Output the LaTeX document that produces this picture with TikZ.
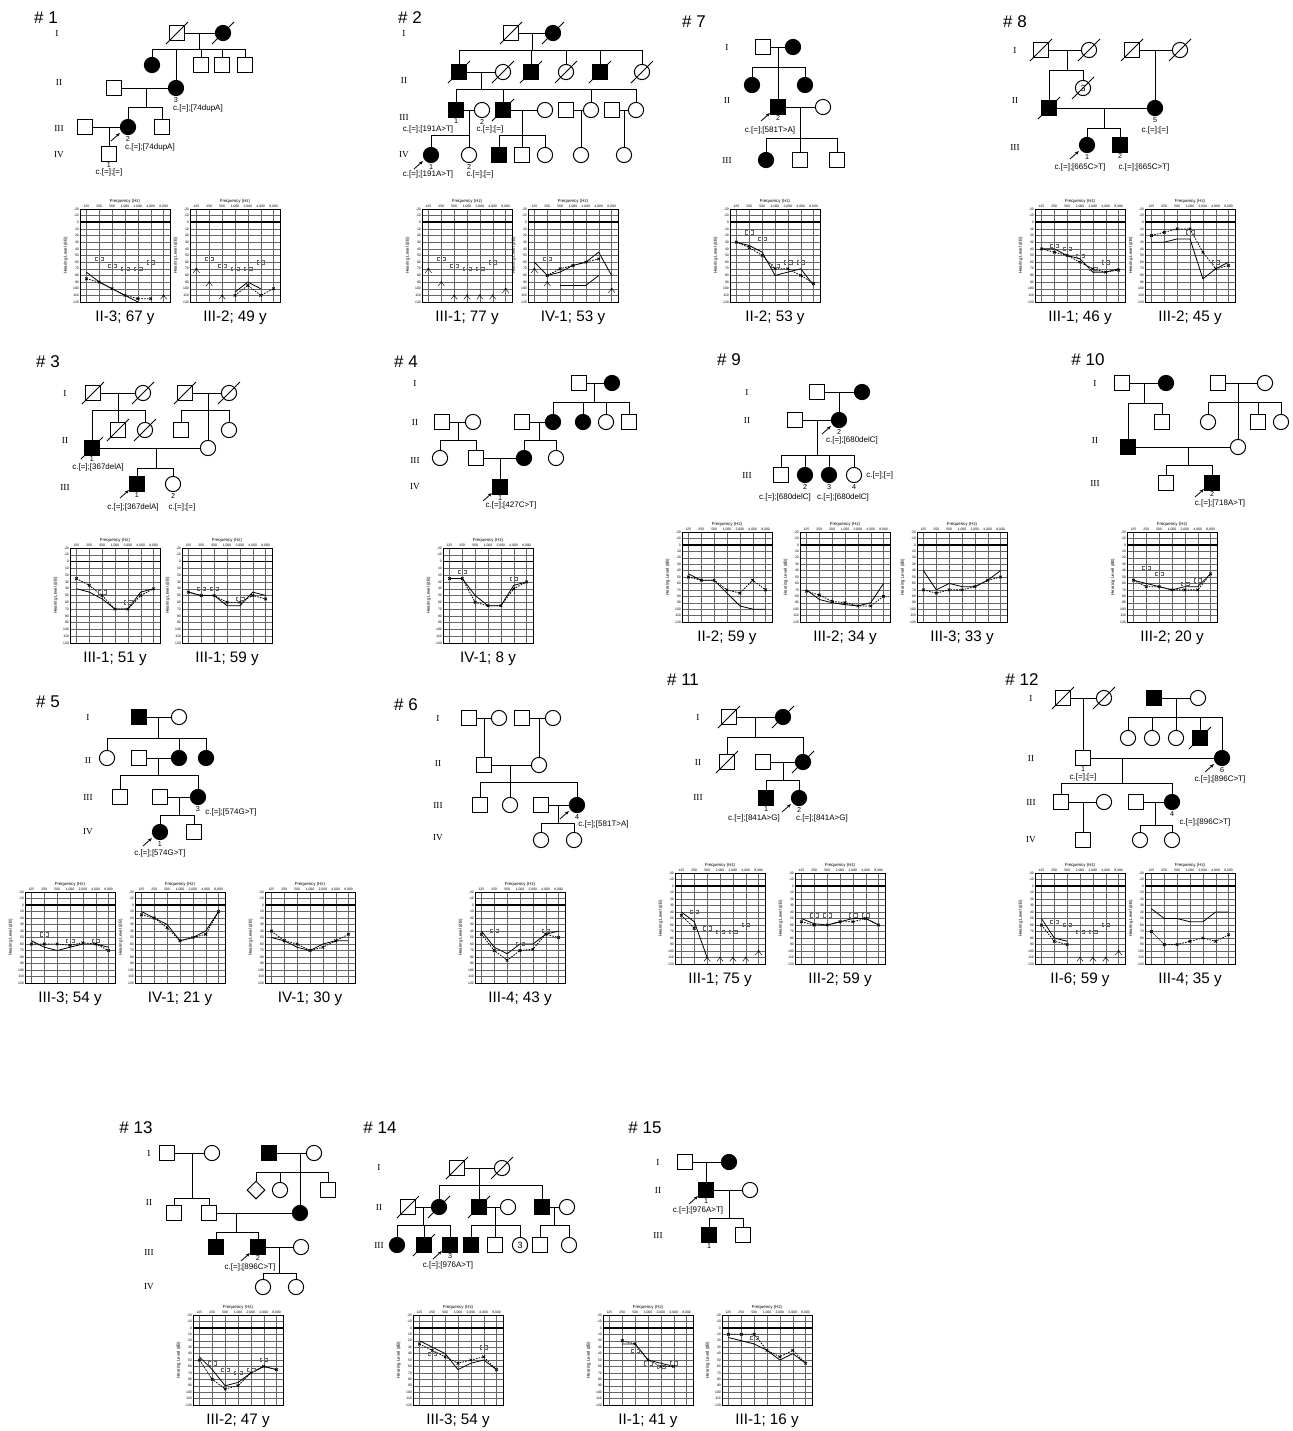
\documentclass[tikz,border=0pt]{standalone}
\usepackage{fontspec}
\setmainfont{Liberation Sans}
\newfontfamily\genfont{Liberation Serif}
\usetikzlibrary{shapes.geometric,arrows.meta}

\newcommand{\deceased}[1]{\draw[slash] ([shift={(-11,11)}]#1.center) -- ([shift={(11,-11)}]#1.center);}
\newcommand{\proband}[1]{\draw[parr] ([shift={(-17,14)}]#1.center) -- ([shift={(-8,6)}]#1.center);}
\newcommand{\bone}[1]{\foreach \f/\d in {#1} {\draw[bcm] (\f-0.12,\d-2.5) -- (\f-0.3,\d-2.5) -- (\f-0.3,\d+2.5) -- (\f-0.12,\d+2.5) (\f+0.12,\d-2.5) -- (\f+0.3,\d-2.5) -- (\f+0.3,\d+2.5) -- (\f+0.12,\d+2.5);}}
\newcommand{\nores}[1]{\foreach \f/\d in {#1} {\draw[bcm, black] (\f-0.25,\d+6) -- (\f,\d) -- (\f+0.25,\d+6); \fill (\f,\d) circle (0.5pt);}}
% audiogram: left, top, height, caption, data
\newcommand{\audiogram}[5]{%
  \pgfmathsetmacro{\agunit}{-#3/280}%
  \begin{scope}[shift={(#1+6.43,#2+#3/7)}, x=6.43pt, y=\agunit pt]
    \foreach \d in {-20,-10,...,120} {
      \draw[agline] (-0.5,\d) -- (6.5,\d);
      \node[agtick, anchor=east] at (-0.5,\d) {\d};
    }
    \foreach \f/\t in {0/125,1/250,2/500,3/{1,000},4/{2,000},5/{4,000},6/{8,000}} {
      \draw[agline] (\f,-20) -- (\f,120);
      \node[agtick, anchor=south] at (\f,-20) {\t};
    }
    \draw[agframe] (-0.5,-20) rectangle (6.5,120);
    \draw[agzero] (-0.5,0) -- (6.5,0);
    \node[agtitle, anchor=south, yshift=2.2pt] at (3,-20) {Frequency (Hz)};
    \node[agtitle, rotate=90] at (-1.6,50) {Hearing Level (dB)};
    \node[agcap, yshift=-8pt] at (3,120) {#4};
    #5
  \end{scope}}

\begin{document}
\begin{tikzpicture}[
  x=0.5pt, y=-0.5pt,
  msq/.style={rectangle, draw, line width=0.5pt, minimum size=7.2pt, inner sep=0pt},
  mfill/.style={msq, fill=black},
  fcir/.style={circle, draw, line width=0.5pt, minimum size=7.6pt, inner sep=0pt},
  ffill/.style={fcir, fill=black},
  unk/.style={diamond, draw, line width=0.5pt, minimum size=9pt, inner sep=0pt},
  kin/.style={line width=0.5pt},
  slash/.style={line width=0.4pt},
  parr/.style={-{Stealth[length=2.2pt,width=1.6pt]}, line width=0.4pt},
  famlab/.style={font=\fontsize{8.5}{9}\selectfont},
  genlab/.style={font=\genfont\fontsize{4.6}{5}\selectfont},
  geno/.style={font=\fontsize{4}{4.5}\selectfont, inner sep=0pt},
  ilab/.style={font=\fontsize{3.6}{4}\selectfont, inner sep=0.4pt},
  agline/.style={line width=0.18pt, black!60},
  agframe/.style={line width=0.35pt},
  agzero/.style={line width=0.8pt},
  agtick/.style={font=\fontsize{1.7}{2}\selectfont, inner sep=0.4pt},
  agtitle/.style={font=\fontsize{2.2}{2.5}\selectfont, inner sep=0.3pt},
  agcap/.style={font=\fontsize{7.6}{8}\selectfont},
  rear/.style={line width=0.4pt, mark=o, mark size=0.9pt},
  lear/.style={line width=0.4pt, dash pattern=on 0.8pt off 0.6pt, mark=x, mark size=0.9pt, mark options={solid}},
  bcm/.style={line width=0.22pt, black!60}
]
  \fill[white] (0,0) rectangle (1292,1431);
  \useasboundingbox (0,0) rectangle (1292,1431);

  % family 1
  \node[famlab] (h1) at (46,18) {\# 1};
  \node[genlab] (g1a) at (57,33) {I};
  \node[genlab] (g1b) at (59,82) {II};
  \node[genlab] (g1c) at (59,128) {III};
  \node[genlab] (g1d) at (59,155) {IV};
  \node[msq] (p1a1) at (177,33) {};
  \node[ffill] (p1a2) at (223,33) {};
  \node[ffill] (p1b1) at (152,65) {};
  \node[msq] (p1b2) at (114,88) {};
  \node[ffill, label={[ilab]below:3}] (p1b3) at (176,88) {};
  \node[msq] (p1b4) at (201,65) {};
  \node[msq] (p1b5) at (222,65) {};
  \node[msq] (p1b6) at (245,65) {};
  \node[msq] (p1c1) at (85,127) {};
  \node[ffill, label={[ilab]below:2}] (p1c2) at (128,127) {};
  \node[msq] (p1c3) at (162,127) {};
  \node[msq, label={[ilab]below:1}] (p1d1) at (109,154) {};
  \node[geno] (p1t1) at (198,108) {c.[=];[74dupA]};
  \node[geno] (p1t2) at (150,147) {c.[=];[74dupA]};
  \node[geno] (p1t3) at (109,172) {c.[=];[=]};
  \coordinate (p1m1) at (199,33);
  \coordinate (p1s1) at (199,49);
  \coordinate (p1m2) at (146,88);
  \coordinate (p1s2) at (146,107);
  \coordinate (p1m3) at (109,127);
  \draw[kin] (p1a1) -- (p1a2);
  \draw[kin] (p1m1) -- (p1s1) (p1s1) -| (p1b1) (p1s1) -| (p1b3) (p1s1) -| (p1b4) (p1s1) -| (p1b5) (p1s1) -| (p1b6);
  \draw[kin] (p1b2) -- (p1b3);
  \draw[kin] (p1m2) -- (p1s2) (p1s2) -| (p1c2) (p1s2) -| (p1c3);
  \draw[kin] (p1c1) -- (p1c2);
  \draw[kin] (p1m3) -- (p1d1);
  \deceased{p1a1} \deceased{p1a2}
  \proband{p1c2}

  % family 2
  \node[famlab] (h2) at (410,18) {\# 2};
  \node[genlab] (g2a) at (404,33) {I};
  \node[genlab] (g2b) at (404,80) {II};
  \node[genlab] (g2c) at (404,117) {III};
  \node[genlab] (g2d) at (404,155) {IV};
  \node[msq] (p2a1) at (511,33) {};
  \node[ffill] (p2a2) at (553,33) {};
  \node[mfill] (p2b1) at (459,72) {};
  \node[fcir] (p2b2) at (503,72) {};
  \node[mfill] (p2b3) at (531,72) {};
  \node[fcir] (p2b4) at (566,72) {};
  \node[mfill] (p2b5) at (600,72) {};
  \node[fcir] (p2b6) at (642,72) {};
  \node[mfill, label={[ilab]below:1}] (p2c1) at (456,110) {};
  \node[fcir, label={[ilab]below:2}] (p2c2) at (482,110) {};
  \node[mfill] (p2c3) at (503,110) {};
  \node[fcir] (p2c4) at (545,110) {};
  \node[msq] (p2c5) at (566,110) {};
  \node[fcir] (p2c6) at (591,110) {};
  \node[msq] (p2c7) at (612,110) {};
  \node[fcir] (p2c8) at (636,110) {};
  \node[ffill, label={[ilab]below:1}] (p2d1) at (431,155) {};
  \node[fcir, label={[ilab]below:2}] (p2d2) at (469,155) {};
  \node[mfill] (p2d3) at (499,155) {};
  \node[msq] (p2d4) at (522,155) {};
  \node[fcir] (p2d5) at (545,155) {};
  \node[fcir] (p2d6) at (581,155) {};
  \node[fcir] (p2d7) at (624,155) {};
  \node[geno] (p2t1) at (428,129) {c.[=];[191A>T]};
  \node[geno] (p2t2) at (490,129) {c.[=];[=]};
  \node[geno] (p2t3) at (428,174) {c.[=];[191A>T]};
  \node[geno] (p2t4) at (480,174) {c.[=];[=]};
  \coordinate (p2m1) at (532,33);
  \coordinate (p2s1) at (532,50);
  \coordinate (p2m2) at (481,72);
  \coordinate (p2s2) at (481,89);
  \coordinate (p2m3) at (469,110);
  \coordinate (p2s3) at (469,135);
  \coordinate (p2m4) at (522,110);
  \coordinate (p2s4) at (522,135);
  \coordinate (p2m5) at (581,110);
  \coordinate (p2m6) at (624,110);
  \draw[kin] (p2a1) -- (p2a2);
  \draw[kin] (p2m1) -- (p2s1) (p2s1) -| (p2b1) (p2s1) -| (p2b3) (p2s1) -| (p2b4) (p2s1) -| (p2b5) (p2s1) -| (p2b6);
  \draw[kin] (p2b1) -- (p2b2);
  \draw[kin] (p2m2) -- (p2s2) (p2s2) -| (p2c1) (p2s2) -| (p2c3) (p2s2) -| (p2c6) (p2s2) -| (p2c8);
  \draw[kin] (p2c1) -- (p2c2);
  \draw[kin] (p2m3) -- (p2s3) (p2s3) -| (p2d1) (p2s3) -| (p2d2);
  \draw[kin] (p2c3) -- (p2c4);
  \draw[kin] (p2m4) -- (p2s4) (p2s4) -| (p2d3) (p2s4) -| (p2d4) (p2s4) -| (p2d5);
  \draw[kin] (p2c5) -- (p2c6);
  \draw[kin] (p2m5) -- (p2d6);
  \draw[kin] (p2c7) -- (p2c8);
  \draw[kin] (p2m6) -- (p2d7);
  \deceased{p2a1} \deceased{p2a2} \deceased{p2b1} \deceased{p2b2} \deceased{p2b3}
  \deceased{p2b4} \deceased{p2b5} \deceased{p2b6} \deceased{p2c3}
  \proband{p2d1}

  % family 7
  \node[famlab] (h7) at (694,22) {\# 7};
  \node[genlab] (g7a) at (727,47) {I};
  \node[genlab] (g7b) at (727,100) {II};
  \node[genlab] (g7c) at (727,160) {III};
  \node[msq] (p7a1) at (763,47) {};
  \node[ffill] (p7a2) at (793,47) {};
  \node[ffill] (p7b1) at (752,85) {};
  \node[mfill, label={[ilab]below:2}] (p7b2) at (778,107) {};
  \node[ffill] (p7b3) at (805,85) {};
  \node[fcir] (p7b4) at (823,107) {};
  \node[ffill] (p7c1) at (766,160) {};
  \node[msq] (p7c2) at (800,160) {};
  \node[msq] (p7c3) at (837,160) {};
  \node[geno] (p7t1) at (770,130) {c.[=];[581T>A]};
  \coordinate (p7m1) at (778,47);
  \coordinate (p7s1) at (778,67);
  \coordinate (p7m2) at (800,107);
  \coordinate (p7s2) at (800,138);
  \draw[kin] (p7a1) -- (p7a2);
  \draw[kin] (p7m1) -- (p7b2) (p7s1) -| (p7b1) (p7s1) -| (p7b3);
  \draw[kin] (p7b2) -- (p7b4);
  \draw[kin] (p7m2) -- (p7s2) (p7s2) -| (p7c1) (p7s2) -| (p7c2) (p7s2) -| (p7c3);
  \proband{p7b2}

  % family 8
  \node[famlab] (h8) at (1015,22) {\# 8};
  \node[genlab] (g8a) at (1015,50) {I};
  \node[genlab] (g8b) at (1015,100) {II};
  \node[genlab] (g8c) at (1015,147) {III};
  \node[msq] (p8a1) at (1041,50) {};
  \node[fcir] (p8a2) at (1089,50) {};
  \node[msq] (p8a3) at (1132,50) {};
  \node[fcir] (p8a4) at (1180,50) {};
  \node[mfill] (p8b1) at (1049,108) {};
  \node[fcir, font=\fontsize{4.5}{5}\selectfont] (p8b2) at (1083,88) {3};
  \node[ffill, label={[ilab]below:5}] (p8b3) at (1155,108) {};
  \node[ffill, label={[ilab]below:1}] (p8c1) at (1087,145) {};
  \node[mfill, label={[ilab]below:2}] (p8c2) at (1120,145) {};
  \node[geno] (p8t1) at (1155,130) {c.[=];[=]};
  \node[geno] (p8t2) at (1080,167) {c.[=];[665C>T]};
  \node[geno] (p8t3) at (1144,167) {c.[=];[665C>T]};
  \coordinate (p8m1) at (1067,50);
  \coordinate (p8s1) at (1067,70);
  \coordinate (p8m2) at (1155,50);
  \coordinate (p8m3) at (1104,108);
  \coordinate (p8s3) at (1104,128);
  \draw[kin] (p8a1) -- (p8a2);
  \draw[kin] (p8m1) -- (p8s1) (p8s1) -| (p8b1) (p8s1) -| (p8b2);
  \draw[kin] (p8a3) -- (p8a4);
  \draw[kin] (p8m2) -- (p8b3);
  \draw[kin] (p8b1) -- (p8b3);
  \draw[kin] (p8m3) -- (p8s3) (p8s3) -| (p8c1) (p8s3) -| (p8c2);
  \deceased{p8a1} \deceased{p8a2} \deceased{p8a3} \deceased{p8a4} \deceased{p8b1} \deceased{p8b2}
  \proband{p8c1}

  % family 3
  \node[famlab] (h3) at (48,362) {\# 3};
  \node[genlab] (g3a) at (65,393) {I};
  \node[genlab] (g3b) at (65,440) {II};
  \node[genlab] (g3c) at (65,487) {III};
  \node[msq] (p3a1) at (93,393) {};
  \node[fcir] (p3a2) at (143,393) {};
  \node[msq] (p3a3) at (185,393) {};
  \node[fcir] (p3a4) at (229,393) {};
  \node[mfill, label={[ilab]below:1}] (p3b1) at (92,448) {};
  \node[msq] (p3b2) at (118,430) {};
  \node[fcir] (p3b3) at (145,430) {};
  \node[msq] (p3b4) at (181,430) {};
  \node[fcir] (p3b5) at (208,448) {};
  \node[fcir] (p3b6) at (229,430) {};
  \node[mfill, label={[ilab]below:1}] (p3c1) at (137,484) {};
  \node[fcir, label={[ilab]below:2}] (p3c2) at (173,484) {};
  \node[geno] (p3t1) at (98,467) {c.[=];[367delA]};
  \node[geno] (p3t2) at (133,507) {c.[=];[367delA]};
  \node[geno] (p3t3) at (182,507) {c.[=];[=]};
  \coordinate (p3m1) at (118,393);
  \coordinate (p3s1) at (118,410);
  \coordinate (p3m2) at (208,393);
  \coordinate (p3s2) at (208,410);
  \coordinate (p3m3) at (156,448);
  \coordinate (p3s3) at (156,468);
  \draw[kin] (p3a1) -- (p3a2);
  \draw[kin] (p3m1) -- (p3s1) (p3s1) -| (p3b1) (p3s1) -| (p3b2) (p3s1) -| (p3b3);
  \draw[kin] (p3a3) -- (p3a4);
  \draw[kin] (p3m2) -- (p3s2) (p3s2) -| (p3b4) (p3s2) -| (p3b5) (p3s2) -| (p3b6);
  \draw[kin] (p3b1) -- (p3b5);
  \draw[kin] (p3m3) -- (p3s3) (p3s3) -| (p3c1) (p3s3) -| (p3c2);
  \deceased{p3a1} \deceased{p3a2} \deceased{p3a3} \deceased{p3a4} \deceased{p3b1}
  \deceased{p3b2} \deceased{p3b3}
  \proband{p3c1}

  % family 4
  \node[famlab] (h4) at (406,362) {\# 4};
  \node[genlab] (g4a) at (415,383) {I};
  \node[genlab] (g4b) at (415,422) {II};
  \node[genlab] (g4c) at (415,460) {III};
  \node[genlab] (g4d) at (415,487) {IV};
  \node[msq] (p4a1) at (579,383) {};
  \node[ffill] (p4a2) at (612,383) {};
  \node[msq] (p4b1) at (442,422) {};
  \node[fcir] (p4b2) at (473,422) {};
  \node[msq] (p4b3) at (522,422) {};
  \node[ffill] (p4b4) at (553,422) {};
  \node[ffill] (p4b5) at (583,422) {};
  \node[fcir] (p4b6) at (606,422) {};
  \node[msq] (p4b7) at (629,422) {};
  \node[fcir] (p4c1) at (440,458) {};
  \node[msq] (p4c2) at (476,458) {};
  \node[ffill] (p4c3) at (524,458) {};
  \node[fcir] (p4c4) at (556,458) {};
  \node[mfill, label={[ilab]below:1}] (p4d1) at (500,487) {};
  \node[geno] (p4t1) at (511,505) {c.[=];[427C>T]};
  \coordinate (p4m1) at (594,383);
  \coordinate (p4s1) at (594,402);
  \coordinate (p4m2) at (458,422);
  \coordinate (p4s2) at (458,440);
  \coordinate (p4m3) at (539,422);
  \coordinate (p4s3) at (539,440);
  \coordinate (p4m4) at (500,458);
  \draw[kin] (p4a1) -- (p4a2);
  \draw[kin] (p4m1) -- (p4s1) (p4s1) -| (p4b4) (p4s1) -| (p4b5) (p4s1) -| (p4b6) (p4s1) -| (p4b7);
  \draw[kin] (p4b1) -- (p4b2);
  \draw[kin] (p4m2) -- (p4s2) (p4s2) -| (p4c1) (p4s2) -| (p4c2);
  \draw[kin] (p4b3) -- (p4b4);
  \draw[kin] (p4m3) -- (p4s3) (p4s3) -| (p4c3) (p4s3) -| (p4c4);
  \draw[kin] (p4c2) -- (p4c3);
  \draw[kin] (p4m4) -- (p4d1);
  \proband{p4d1}

  % family 9
  \node[famlab] (h9) at (729,360) {\# 9};
  \node[genlab] (g9a) at (747,392) {I};
  \node[genlab] (g9b) at (747,420) {II};
  \node[genlab] (g9c) at (747,475) {III};
  \node[msq] (p9a1) at (817,392) {};
  \node[ffill] (p9a2) at (862,392) {};
  \node[msq] (p9b1) at (795,420) {};
  \node[ffill, label={[ilab]below:2}] (p9b2) at (839,420) {};
  \node[msq] (p9c1) at (781,475) {};
  \node[ffill, label={[ilab]below:2}] (p9c2) at (805,475) {};
  \node[ffill, label={[ilab]below:3}] (p9c3) at (829,475) {};
  \node[fcir, label={[ilab]below:4}] (p9c4) at (854,475) {};
  \node[geno] (p9t1) at (852,440) {c.[=];[680delC]};
  \node[geno, anchor=west] (p9t2) at (866,475) {c.[=];[=]};
  \node[geno] (p9t3) at (785,497) {c.[=];[680delC]};
  \node[geno] (p9t4) at (843,497) {c.[=];[680delC]};
  \coordinate (p9m1) at (839,392);
  \coordinate (p9m2) at (817,420);
  \coordinate (p9s2) at (817,455);
  \draw[kin] (p9a1) -- (p9a2);
  \draw[kin] (p9m1) -- (p9b2);
  \draw[kin] (p9b1) -- (p9b2);
  \draw[kin] (p9m2) -- (p9s2) (p9s2) -| (p9c1) (p9s2) -| (p9c2) (p9s2) -| (p9c3) (p9s2) -| (p9c4);
  \proband{p9b2}

  % family 10
  \node[famlab] (h10) at (1088,360) {\# 10};
  \node[genlab] (g10a) at (1095,383) {I};
  \node[genlab] (g10b) at (1095,440) {II};
  \node[genlab] (g10c) at (1095,483) {III};
  \node[msq] (p10a1) at (1122,383) {};
  \node[ffill] (p10a2) at (1166,383) {};
  \node[msq] (p10a3) at (1218,383) {};
  \node[fcir] (p10a4) at (1265,383) {};
  \node[mfill] (p10b1) at (1128,447) {};
  \node[msq] (p10b2) at (1162,422) {};
  \node[fcir] (p10b3) at (1208,422) {};
  \node[fcir] (p10b4) at (1238,447) {};
  \node[msq] (p10b5) at (1258,422) {};
  \node[fcir] (p10b6) at (1281,422) {};
  \node[msq] (p10c1) at (1166,483) {};
  \node[mfill, label={[ilab]below:2}] (p10c2) at (1212,483) {};
  \node[geno] (p10t1) at (1220,503) {c.[=];[718A>T]};
  \coordinate (p10m1) at (1144,383);
  \coordinate (p10s1) at (1144,403);
  \coordinate (p10m2) at (1238,383);
  \coordinate (p10s2) at (1238,402);
  \coordinate (p10m3) at (1188,447);
  \coordinate (p10s3) at (1188,465);
  \draw[kin] (p10a1) -- (p10a2);
  \draw[kin] (p10m1) -- (p10s1) (p10s1) -| (p10b1) (p10s1) -| (p10b2);
  \draw[kin] (p10a3) -- (p10a4);
  \draw[kin] (p10m2) -- (p10b4) (p10s2) -| (p10b3) (p10s2) -| (p10b5) (p10s2) -| (p10b6);
  \draw[kin] (p10b1) -- (p10b4);
  \draw[kin] (p10m3) -- (p10s3) (p10s3) -| (p10c1) (p10s3) -| (p10c2);
  \proband{p10c2}

  % family 5
  \node[famlab] (h5) at (48,702) {\# 5};
  \node[genlab] (g5a) at (88,717) {I};
  \node[genlab] (g5b) at (88,760) {II};
  \node[genlab] (g5c) at (88,797) {III};
  \node[genlab] (g5d) at (88,832) {IV};
  \node[mfill] (p5a1) at (139,717) {};
  \node[fcir] (p5a2) at (179,717) {};
  \node[fcir] (p5b1) at (107,758) {};
  \node[msq] (p5b2) at (139,758) {};
  \node[ffill] (p5b3) at (179,758) {};
  \node[ffill] (p5b4) at (206,758) {};
  \node[msq] (p5c1) at (120,797) {};
  \node[msq] (p5c2) at (160,797) {};
  \node[ffill, label={[ilab]below:3}] (p5c3) at (198,797) {};
  \node[ffill, label={[ilab]below:1}] (p5d1) at (160,832) {};
  \node[msq] (p5d2) at (194,832) {};
  \node[geno, anchor=west] (p5t1) at (205,812) {c.[=];[574G>T]};
  \node[geno] (p5t2) at (160,853) {c.[=];[574G>T]};
  \coordinate (p5m1) at (158,717);
  \coordinate (p5s1) at (158,738);
  \coordinate (p5m2) at (158,758);
  \coordinate (p5s2) at (158,775);
  \coordinate (p5m3) at (179,797);
  \coordinate (p5s3) at (179,815);
  \draw[kin] (p5a1) -- (p5a2);
  \draw[kin] (p5m1) -- (p5s1) (p5s1) -| (p5b1) (p5s1) -| (p5b3) (p5s1) -| (p5b4);
  \draw[kin] (p5b2) -- (p5b3);
  \draw[kin] (p5m2) -- (p5s2) (p5s2) -| (p5c1) (p5s2) -| (p5c3);
  \draw[kin] (p5c2) -- (p5c3);
  \draw[kin] (p5m3) -- (p5s3) (p5s3) -| (p5d1) (p5s3) -| (p5d2);
  \proband{p5d1}

  % family 6
  \node[famlab] (h6) at (406,705) {\# 6};
  \node[genlab] (g6a) at (438,718) {I};
  \node[genlab] (g6b) at (438,763) {II};
  \node[genlab] (g6c) at (438,805) {III};
  \node[genlab] (g6d) at (438,838) {IV};
  \node[msq] (p6a1) at (469,718) {};
  \node[fcir] (p6a2) at (499,718) {};
  \node[msq] (p6a3) at (522,718) {};
  \node[fcir] (p6a4) at (553,718) {};
  \node[msq] (p6b1) at (484,765) {};
  \node[fcir] (p6b2) at (539,765) {};
  \node[msq] (p6c1) at (480,805) {};
  \node[fcir] (p6c2) at (510,805) {};
  \node[msq] (p6c3) at (541,805) {};
  \node[ffill, label={[ilab]below:4}] (p6c4) at (577,805) {};
  \node[fcir] (p6d1) at (541,840) {};
  \node[fcir] (p6d2) at (574,840) {};
  \node[geno, anchor=west] (p6t1) at (578,824) {c.[=];[581T>A]};
  \coordinate (p6m1) at (484,718);
  \coordinate (p6m2) at (539,718);
  \coordinate (p6m3) at (510,765);
  \coordinate (p6s3) at (510,782);
  \coordinate (p6m4) at (558,805);
  \coordinate (p6s4) at (558,823);
  \draw[kin] (p6a1) -- (p6a2);
  \draw[kin] (p6m1) -- (p6b1);
  \draw[kin] (p6a3) -- (p6a4);
  \draw[kin] (p6m2) -- (p6b2);
  \draw[kin] (p6b1) -- (p6b2);
  \draw[kin] (p6m3) -- (p6s3) (p6s3) -| (p6c1) (p6s3) -| (p6c2) (p6s3) -| (p6c4);
  \draw[kin] (p6c3) -- (p6c4);
  \draw[kin] (p6m4) -- (p6s4) (p6s4) -| (p6d1) (p6s4) -| (p6d2);
  \proband{p6c4}

  % family 11
  \node[famlab] (h11) at (683,680) {\# 11};
  \node[genlab] (g11a) at (698,717) {I};
  \node[genlab] (g11b) at (698,762) {II};
  \node[genlab] (g11c) at (698,797) {III};
  \node[msq] (p11a1) at (729,717) {};
  \node[ffill] (p11a2) at (783,717) {};
  \node[msq] (p11b1) at (727,762) {};
  \node[msq] (p11b2) at (763,762) {};
  \node[ffill] (p11b3) at (803,762) {};
  \node[mfill, label={[ilab]below:1}] (p11c1) at (766,798) {};
  \node[ffill, label={[ilab]below:2}] (p11c2) at (799,798) {};
  \node[geno] (p11t1) at (754,818) {c.[=];[841A>G]};
  \node[geno] (p11t2) at (822,818) {c.[=];[841A>G]};
  \coordinate (p11m1) at (755,717);
  \coordinate (p11s1) at (755,737);
  \coordinate (p11m2) at (783,762);
  \coordinate (p11s2) at (783,780);
  \draw[kin] (p11a1) -- (p11a2);
  \draw[kin] (p11m1) -- (p11s1) (p11s1) -| (p11b1) (p11s1) -| (p11b3);
  \draw[kin] (p11b2) -- (p11b3);
  \draw[kin] (p11m2) -- (p11s2) (p11s2) -| (p11c1) (p11s2) -| (p11c2);
  \deceased{p11a1} \deceased{p11a2} \deceased{p11b1} \deceased{p11b3}
  \proband{p11c2}

  % family 12
  \node[famlab] (h12) at (1022,680) {\# 12};
  \node[genlab] (g12a) at (1031,698) {I};
  \node[genlab] (g12b) at (1031,758) {II};
  \node[genlab] (g12c) at (1031,802) {III};
  \node[genlab] (g12d) at (1031,840) {IV};
  \node[msq] (p12a1) at (1063,698) {};
  \node[fcir] (p12a2) at (1104,698) {};
  \node[mfill] (p12a3) at (1154,698) {};
  \node[fcir] (p12a4) at (1198,698) {};
  \node[msq, label={[ilab]below:1}] (p12b1) at (1083,758) {};
  \node[fcir] (p12b2) at (1128,738) {};
  \node[fcir] (p12b3) at (1152,738) {};
  \node[fcir] (p12b4) at (1176,738) {};
  \node[mfill] (p12b5) at (1200,738) {};
  \node[ffill, label={[ilab]below:6}] (p12b6) at (1222,758) {};
  \node[msq] (p12c1) at (1061,802) {};
  \node[fcir] (p12c2) at (1104,802) {};
  \node[msq] (p12c3) at (1136,802) {};
  \node[ffill, label={[ilab]below:4}] (p12c4) at (1172,802) {};
  \node[msq] (p12d1) at (1083,840) {};
  \node[fcir] (p12d2) at (1140,840) {};
  \node[fcir] (p12d3) at (1172,840) {};
  \node[geno] (p12t1) at (1083,777) {c.[=];[=]};
  \node[geno] (p12t2) at (1220,779) {c.[=];[896C>T]};
  \node[geno] (p12t3) at (1205,822) {c.[=];[896C>T]};
  \coordinate (p12m1) at (1083,698);
  \coordinate (p12m2) at (1176,698);
  \coordinate (p12s2) at (1176,717);
  \coordinate (p12m3) at (1122,758);
  \coordinate (p12s3) at (1122,783);
  \coordinate (p12m4) at (1083,802);
  \coordinate (p12m5) at (1155,802);
  \coordinate (p12s5) at (1155,825);
  \draw[kin] (p12a1) -- (p12a2);
  \draw[kin] (p12m1) -- (p12b1);
  \draw[kin] (p12a3) -- (p12a4);
  \draw[kin] (p12m2) -- (p12s2) (p12s2) -| (p12b2) (p12s2) -| (p12b3) (p12s2) -| (p12b4) (p12s2) -| (p12b5) (p12s2) -| (p12b6);
  \draw[kin] (p12b1) -- (p12b6);
  \draw[kin] (p12m3) -- (p12s3) (p12s3) -| (p12c1) (p12s3) -| (p12c4);
  \draw[kin] (p12c1) -- (p12c2);
  \draw[kin] (p12m4) -- (p12d1);
  \draw[kin] (p12c3) -- (p12c4);
  \draw[kin] (p12m5) -- (p12s5) (p12s5) -| (p12d2) (p12s5) -| (p12d3);
  \deceased{p12a1} \deceased{p12a2} \deceased{p12b5}
  \proband{p12b6}

  % family 13
  \node[famlab] (h13) at (136,1128) {\# 13};
  \node[genlab] (g13a) at (149,1153) {I};
  \node[genlab] (g13b) at (149,1202) {II};
  \node[genlab] (g13c) at (149,1252) {III};
  \node[genlab] (g13d) at (149,1287) {IV};
  \node[msq] (p13a1) at (167,1153) {};
  \node[fcir] (p13a2) at (212,1153) {};
  \node[mfill] (p13a3) at (269,1153) {};
  \node[fcir] (p13a4) at (314,1153) {};
  \node[msq] (p13b1) at (174,1213) {};
  \node[msq] (p13b2) at (209,1213) {};
  \node[unk] (p13b3) at (256,1190) {};
  \node[fcir] (p13b4) at (280,1190) {};
  \node[ffill] (p13b5) at (300,1213) {};
  \node[msq] (p13b6) at (328,1190) {};
  \node[mfill] (p13c1) at (216,1247) {};
  \node[mfill, label={[ilab]below:2}] (p13c2) at (258,1247) {};
  \node[fcir] (p13c3) at (301,1247) {};
  \node[fcir] (p13d1) at (263,1287) {};
  \node[fcir] (p13d2) at (296,1287) {};
  \node[geno] (p13t1) at (250,1267) {c.[=];[896C>T]};
  \coordinate (p13m1) at (192,1153);
  \coordinate (p13s1) at (192,1198);
  \coordinate (p13m2) at (300,1153);
  \coordinate (p13s2) at (300,1172);
  \coordinate (p13m3) at (236,1213);
  \coordinate (p13s3) at (236,1232);
  \coordinate (p13m4) at (279,1247);
  \coordinate (p13s4) at (279,1273);
  \draw[kin] (p13a1) -- (p13a2);
  \draw[kin] (p13m1) -- (p13s1) (p13s1) -| (p13b1) (p13s1) -| (p13b2);
  \draw[kin] (p13a3) -- (p13a4);
  \draw[kin] (p13m2) -- (p13b5) (p13s2) -| (p13b3) (p13s2) -| (p13b4) (p13s2) -| (p13b6);
  \draw[kin] (p13b2) -- (p13b5);
  \draw[kin] (p13m3) -- (p13s3) (p13s3) -| (p13c1) (p13s3) -| (p13c2);
  \draw[kin] (p13c2) -- (p13c3);
  \draw[kin] (p13m4) -- (p13s4) (p13s4) -| (p13d1) (p13s4) -| (p13d2);
  \proband{p13c2}

  % family 14
  \node[famlab] (h14) at (380,1128) {\# 14};
  \node[genlab] (g14a) at (379,1167) {I};
  \node[genlab] (g14b) at (379,1207) {II};
  \node[genlab] (g14c) at (379,1245) {III};
  \node[msq] (p14a1) at (457,1168) {};
  \node[fcir] (p14a2) at (502,1168) {};
  \node[msq] (p14b1) at (408,1207) {};
  \node[ffill] (p14b2) at (439,1207) {};
  \node[mfill] (p14b3) at (479,1207) {};
  \node[fcir] (p14b4) at (508,1207) {};
  \node[mfill] (p14b5) at (542,1207) {};
  \node[fcir] (p14b6) at (567,1207) {};
  \node[ffill] (p14c1) at (397,1245) {};
  \node[mfill] (p14c2) at (424,1245) {};
  \node[mfill, label={[ilab]below:3}] (p14c3) at (450,1245) {};
  \node[mfill] (p14c4) at (471,1245) {};
  \node[msq] (p14c5) at (495,1245) {};
  \node[fcir, font=\fontsize{4.5}{5}\selectfont] (p14c6) at (520,1245) {3};
  \node[msq] (p14c7) at (540,1245) {};
  \node[fcir] (p14c8) at (569,1245) {};
  \node[geno] (p14t1) at (448,1265) {c.[=];[976A>T]};
  \coordinate (p14m1) at (479,1168);
  \coordinate (p14s1) at (479,1185);
  \coordinate (p14m2) at (423,1207);
  \coordinate (p14s2) at (423,1225);
  \coordinate (p14m3) at (495,1207);
  \coordinate (p14s3) at (495,1225);
  \coordinate (p14m4) at (554,1207);
  \coordinate (p14s4) at (554,1225);
  \draw[kin] (p14a1) -- (p14a2);
  \draw[kin] (p14m1) -- (p14s1) (p14s1) -| (p14b2) (p14s1) -| (p14b3) (p14s1) -| (p14b5);
  \draw[kin] (p14b1) -- (p14b2);
  \draw[kin] (p14m2) -- (p14s2) (p14s2) -| (p14c1) (p14s2) -| (p14c2) (p14s2) -| (p14c3);
  \draw[kin] (p14b3) -- (p14b4);
  \draw[kin] (p14m3) -- (p14s3) (p14s3) -| (p14c4) (p14s3) -| (p14c5) (p14s3) -| (p14c6);
  \draw[kin] (p14b5) -- (p14b6);
  \draw[kin] (p14m4) -- (p14s4) (p14s4) -| (p14c7) (p14s4) -| (p14c8);
  \deceased{p14a1} \deceased{p14a2} \deceased{p14b1} \deceased{p14b2} \deceased{p14b3} \deceased{p14c2}
  \proband{p14c3}

  % family 15
  \node[famlab] (h15) at (645,1128) {\# 15};
  \node[genlab] (g15a) at (658,1162) {I};
  \node[genlab] (g15b) at (658,1190) {II};
  \node[genlab] (g15c) at (658,1235) {III};
  \node[msq] (p15a1) at (685,1162) {};
  \node[ffill] (p15a2) at (729,1162) {};
  \node[mfill, label={[ilab]below:1}] (p15b1) at (706,1190) {};
  \node[fcir] (p15b2) at (750,1190) {};
  \node[mfill, label={[ilab]below:1}] (p15c1) at (709,1235) {};
  \node[msq] (p15c2) at (743,1235) {};
  \node[geno] (p15t1) at (698,1210) {c.[=];[976A>T]};
  \coordinate (p15m1) at (706,1162);
  \coordinate (p15m2) at (729,1190);
  \coordinate (p15s2) at (729,1218);
  \draw[kin] (p15a1) -- (p15a2);
  \draw[kin] (p15m1) -- (p15b1);
  \draw[kin] (p15b1) -- (p15b2);
  \draw[kin] (p15m2) -- (p15s2) (p15s2) -| (p15c1) (p15s2) -| (p15c2);
  \proband{p15b1}

  % audiograms
  \audiogram{80}{209}{93}{II-3; 67 y}{
    \draw[rear] plot coordinates {(0,75) (1,90) (2,100) (3,110) (4,120)};
    \draw[lear] plot coordinates {(0,85) (1,90) (2,100) (3,110) (4,115) (5,115)};
    \bone{1/55,2/65,3/70,4/70,5/60}
    \nores{6/110}}
  \audiogram{190}{209}{93}{III-2; 49 y}{
    \draw[rear] plot coordinates {(3,105) (4,90) (5,100)};
    \draw[lear] plot coordinates {(3,110) (4,95) (5,110) (6,100)};
    \bone{1/55,2/65,3/70,4/70,5/60}
    \nores{0/70,1/90,2/110}}
  \audiogram{422}{209}{93}{III-1; 77 y}{
    \bone{1/55,2/65,3/70,4/70,5/60}
    \nores{0/70,1/90,2/110,3/110,4/110,5/110,6/100}}
  \audiogram{528}{209}{93}{IV-1; 53 y}{
    \draw[rear] plot coordinates {(0,60) (1,80) (2,75) (3,65) (4,60) (5,45) (6,80)};
    \draw[lear] plot coordinates {(1,80) (2,70) (3,65) (4,60) (5,55)};
    \draw[rear] plot coordinates {(2,95) (3,95) (4,95) (5,80)};
    \bone{1/55}
    \nores{0/70,1/90,6/100}}
  \audiogram{730}{209}{93}{II-2; 53 y}{
    \draw[rear] plot coordinates {(0,30) (1,35) (2,45) (3,80) (4,75) (5,70) (6,95)};
    \draw[lear] plot coordinates {(0,30) (1,38) (2,50) (3,70) (4,70) (5,80) (6,92)};
    \bone{1/15,2/25,3/65,4/60,5/60}}
  \audiogram{1035}{209}{93}{III-1; 46 y}{
    \draw[rear] plot coordinates {(0,40) (1,40) (2,50) (3,55) (4,75) (5,75) (6,70)};
    \draw[lear] plot coordinates {(0,40) (1,45) (2,50) (3,60) (4,70) (5,75) (6,72)};
    \bone{1/35,2/40,3/50,4/70,5/60}}
  \audiogram{1145}{209}{93}{III-2; 45 y}{
    \draw[rear] plot coordinates {(0,30) (1,30) (2,25) (3,25) (4,85) (5,70) (6,60)};
    \draw[lear] plot coordinates {(0,20) (1,15) (2,10) (3,10) (4,45) (5,70) (6,65)};
    \bone{3/15,5/60}}

  \audiogram{70}{548}{95}{III-1; 51 y}{
    \draw[rear] plot coordinates {(0,40) (1,45) (2,55) (3,70) (4,70) (5,45) (6,40)};
    \draw[lear] plot coordinates {(0,25) (1,35) (2,50) (3,70) (4,70) (5,50) (6,40)};
    \bone{2/45,4/60}}
  \audiogram{182}{548}{95}{III-1; 59 y}{
    \draw[rear] plot coordinates {(0,45) (1,50) (2,50) (3,65) (4,65) (5,45) (6,50)};
    \draw[lear] plot coordinates {(0,45) (1,50) (2,50) (3,60) (4,60) (5,50) (6,55)};
    \bone{1/40,2/40,4/55}}
  \audiogram{443}{548}{95}{IV-1; 8 y}{
    \draw[rear] plot coordinates {(0,25) (1,25) (2,50) (3,65) (4,65) (5,35) (6,30)};
    \draw[lear] plot coordinates {(0,25) (1,25) (2,60) (3,65) (4,65) (5,40) (6,30)};
    \bone{1/15,5/25}}
  \audiogram{682}{532}{90}{II-2; 59 y}{
    \draw[rear] plot coordinates {(0,45) (1,55) (2,55) (3,75) (4,95) (5,100) (6,100)};
    \draw[lear] plot coordinates {(0,50) (1,55) (2,55) (3,70) (4,75) (5,55) (6,70)};}
  \audiogram{800}{532}{90}{III-2; 34 y}{
    \draw[rear] plot coordinates {(0,70) (1,85) (2,90) (3,93) (4,95) (5,90) (6,60)};
    \draw[lear] plot coordinates {(0,72) (1,78) (2,88) (3,90) (4,95) (5,95) (6,80)};}
  \audiogram{917}{532}{90}{III-3; 33 y}{
    \draw[rear] plot coordinates {(0,40) (1,70) (2,60) (3,65) (4,65) (5,55) (6,40)};
    \draw[lear] plot coordinates {(0,70) (1,75) (2,70) (3,70) (4,65) (5,55) (6,50)};}
  \audiogram{1127}{532}{90}{III-2; 20 y}{
    \draw[rear] plot coordinates {(0,55) (1,60) (2,65) (3,70) (4,65) (5,65) (6,45)};
    \draw[lear] plot coordinates {(0,55) (1,65) (2,65) (3,70) (4,70) (5,70) (6,45)};
    \bone{1/35,2/45,4/60,5/55}}

  \audiogram{25}{892}{91}{III-3; 54 y}{
    \draw[rear] plot coordinates {(0,55) (1,65) (2,70) (3,65) (4,60) (5,60) (6,65)};
    \draw[lear] plot coordinates {(0,60) (1,60) (2,60) (3,62) (4,58) (5,60) (6,70)};
    \bone{1/45,3/55,5/55}}
  \audiogram{135}{892}{91}{IV-1; 21 y}{
    \draw[rear] plot coordinates {(0,10) (1,20) (2,30) (3,55) (4,50) (5,40) (6,10)};
    \draw[lear] plot coordinates {(0,15) (1,20) (2,35) (3,55) (4,50) (5,45) (6,10)};}
  \audiogram{265}{892}{91}{IV-1; 30 y}{
    \draw[rear] plot coordinates {(0,50) (1,55) (2,65) (3,70) (4,60) (5,55) (6,55)};
    \draw[lear] plot coordinates {(0,40) (1,55) (2,60) (3,70) (4,65) (5,55) (6,45)};}
  \audiogram{475}{892}{91}{III-4; 43 y}{
    \draw[rear] plot coordinates {(0,40) (1,65) (2,75) (3,60) (4,60) (5,45) (6,40)};
    \draw[lear] plot coordinates {(0,45) (1,70) (2,85) (3,70) (4,68) (5,45) (6,50)};
    \bone{1/40,3/60,5/40}}
  \audiogram{675}{873}{91}{III-1; 75 y}{
    \draw[rear] plot coordinates {(0,40) (1,55) (2,110)};
    \draw[lear] plot coordinates {(0,45) (1,65)};
    \bone{1/40,2/65,3/70,4/70,5/60}
    \nores{2/110,3/110,4/110,5/110,6/100}}
  \audiogram{795}{873}{91}{III-2; 59 y}{
    \draw[rear] plot coordinates {(0,50) (1,58) (2,60) (3,55) (4,50) (5,50) (6,60)};
    \draw[lear] plot coordinates {(0,55) (1,60) (2,60) (3,55) (4,55) (5,50) (6,60)};
    \bone{1/45,2/45,4/45,5/45}}
  \audiogram{1035}{873}{91}{II-6; 59 y}{
    \draw[rear] plot coordinates {(0,50) (1,80) (2,85)};
    \draw[lear] plot coordinates {(0,60) (1,85) (2,90)};
    \bone{1/55,2/60,3/70,4/70,5/60}
    \nores{3/110,4/110,5/110,6/100}}
  \audiogram{1145}{873}{91}{III-4; 35 y}{
    \draw[rear] plot coordinates {(0,35) (1,50) (2,50) (3,55) (4,55) (5,40) (6,40)};
    \draw[lear] plot coordinates {(0,70) (1,90) (2,90) (3,85) (4,80) (5,85) (6,75)};}

  \audiogram{193}{1315}{90}{III-2; 47 y}{
    \draw[rear] plot coordinates {(0,45) (1,65) (2,90) (3,85) (4,70) (5,60) (6,65)};
    \draw[lear] plot coordinates {(0,50) (1,80) (2,95) (3,90) (4,70) (5,60) (6,65)};
    \bone{1/55,2/65,3/70,4/65,5/50}}
  \audiogram{413}{1315}{90}{III-3; 54 y}{
    \draw[rear] plot coordinates {(0,20) (1,30) (2,40) (3,65) (4,55) (5,50) (6,65)};
    \draw[lear] plot coordinates {(0,25) (1,35) (2,45) (3,55) (4,50) (5,45) (6,65)};
    \bone{1/40,5/30}}
  \audiogram{603}{1315}{90}{II-1; 41 y}{
    \draw[rear] plot coordinates {(1,25) (2,25) (3,50) (4,55) (5,60)};
    \draw[lear] plot coordinates {(1,20) (2,25) (3,50) (4,60) (5,60)};
    \bone{2/35,3/55,4/60,5/55}}
  \audiogram{722}{1315}{90}{III-1; 16 y}{
    \draw[rear] plot coordinates {(0,15) (1,20) (2,25) (3,35) (4,50) (5,40) (6,55)};
    \draw[lear] plot coordinates {(0,10) (1,10) (2,10) (3,35) (4,45) (5,35) (6,55)};
    \bone{2/15}}
\end{tikzpicture}
\end{document}
